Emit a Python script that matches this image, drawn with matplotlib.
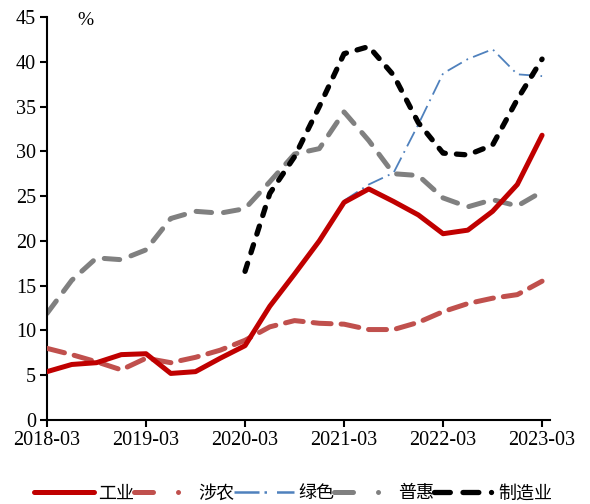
import matplotlib
matplotlib.use("Agg")
import matplotlib.pyplot as plt
from matplotlib.lines import Line2D
import numpy as np

quarters = ["2018-03", "2018-06", "2018-09", "2018-12",
            "2019-03", "2019-06", "2019-09", "2019-12",
            "2020-03", "2020-06", "2020-09", "2020-12",
            "2021-03", "2021-06", "2021-09", "2021-12",
            "2022-03", "2022-06", "2022-09", "2022-12",
            "2023-03"]
industry = [5.4, 6.2, 6.4, 7.3, 7.4, 5.2, 5.4, 6.9, 8.3, 12.7, 16.3, 20.0,
            24.3, 25.8, 24.4, 22.9, 20.8, 21.2, 23.3, 26.3, 31.8]
agri = [8.0, 7.3, 6.5, 5.6, 6.9, 6.4, 7.0, 7.8, 8.9, 10.4, 11.1, 10.8,
        10.7, 10.1, 10.1, 10.9, 12.1, 13.0, 13.6, 14.0, 15.5]
green = [np.nan] * 12 + [24.5, 26.3, 27.6, 33.0, 38.7, 40.3, 41.4, 38.6, 38.4]
inclusive = [11.9, 15.6, 18.1, 17.9, 19.0, 22.5, 23.3, 23.1, 23.6, 26.6, 29.7, 30.3,
             34.4, 31.2, 27.5, 27.3, 24.8, 23.8, 24.6, 23.9, 25.5]
manufacturing = [np.nan] * 8 + [16.6, 25.3, 29.4, 35.0, 40.9, 41.7, 38.5, 33.2,
                                29.8, 29.6, 30.7, 35.8, 40.3]
series_names = ["工业", "涉农", "绿色", "普惠", "制造业"]
tick_labels = ["2018-03", "2019-03", "2020-03", "2021-03", "2022-03", "2023-03"]

fig = plt.figure(figsize=(5.9, 5.04), dpi=100)
ax = fig.add_axes([47 / 590, 1 - 420 / 504, (550 - 47) / 590, (420 - 17) / 504])

x = np.arange(len(quarters))

ax.plot(x, industry, color="#C00000", lw=3.6, solid_capstyle="round",
        solid_joinstyle="round", zorder=5)
l2, = ax.plot(x, agri, color="#C0504D", lw=3.6, dash_capstyle="round", zorder=4)
l2.set_dashes([3.6, 2.0])
l3, = ax.plot(x, green, color="#4F81BD", lw=1.3, zorder=3)
l3.set_dashes([9, 3, 1, 3])
l4, = ax.plot(x, inclusive, color="#808080", lw=3.6, dash_capstyle="round", zorder=2)
l4.set_dashes([3.1, 2.4])
l5, = ax.plot(x, manufacturing, color="#000000", lw=3.8, dash_capstyle="round", zorder=6)
l5.set_dashes([1.6, 2.1])

ax.set_xlim(0, 20.32)
ax.set_ylim(0, 45)
ax.set_yticks(np.arange(0, 46, 5))
ax.set_xticks(x[::4])
ax.set_xticklabels(tick_labels)

for s in ["top", "right"]:
    ax.spines[s].set_visible(False)
for s in ["left", "bottom"]:
    ax.spines[s].set_linewidth(1.5)
    ax.spines[s].set_color("black")

ax.tick_params(axis="both", direction="out", length=5, width=1.5, colors="black",
               labelsize=14.5, pad=3)
for lab in ax.get_xticklabels() + ax.get_yticklabels():
    lab.set_fontfamily("Liberation Serif")

ax.text(1.55, 44.6, "%", fontsize=14, fontfamily="Liberation Serif", ha="center", va="center")

# legend proxies (mimic the reference legend's dash rendering)
h1 = Line2D([], [], color="#C00000", lw=3.6, solid_capstyle="round")
h2 = Line2D([], [], color="#C0504D", lw=3.6, dash_capstyle="round")
h2.set_dashes([3.8, 5.0, 0.01, 10])
h3 = Line2D([], [], color="#4F81BD", lw=1.8)
h3.set_dashes([10, 2, 1, 4, 10, 3])
h4 = Line2D([], [], color="#808080", lw=3.6, dash_capstyle="round")
h4.set_dashes([3.8, 5.0, 0.01, 10])
h5 = Line2D([], [], color="#000000", lw=3.8, dash_capstyle="round")
h5.set_dashes([3.0, 2.4, 3.0, 2.4, 0.01, 10])

leg = fig.legend([h1, h2, h3, h4, h5], series_names, loc="center",
                 bbox_to_anchor=(0.497, 0.021), ncol=5, frameon=False,
                 prop={"family": ["Noto Sans CJK SC", "DejaVu Sans"], "size": 13},
                 handlelength=3.33, handletextpad=0.22, columnspacing=0.0,
                 borderaxespad=0, borderpad=0)

fig.savefig("out.png", dpi=100)
